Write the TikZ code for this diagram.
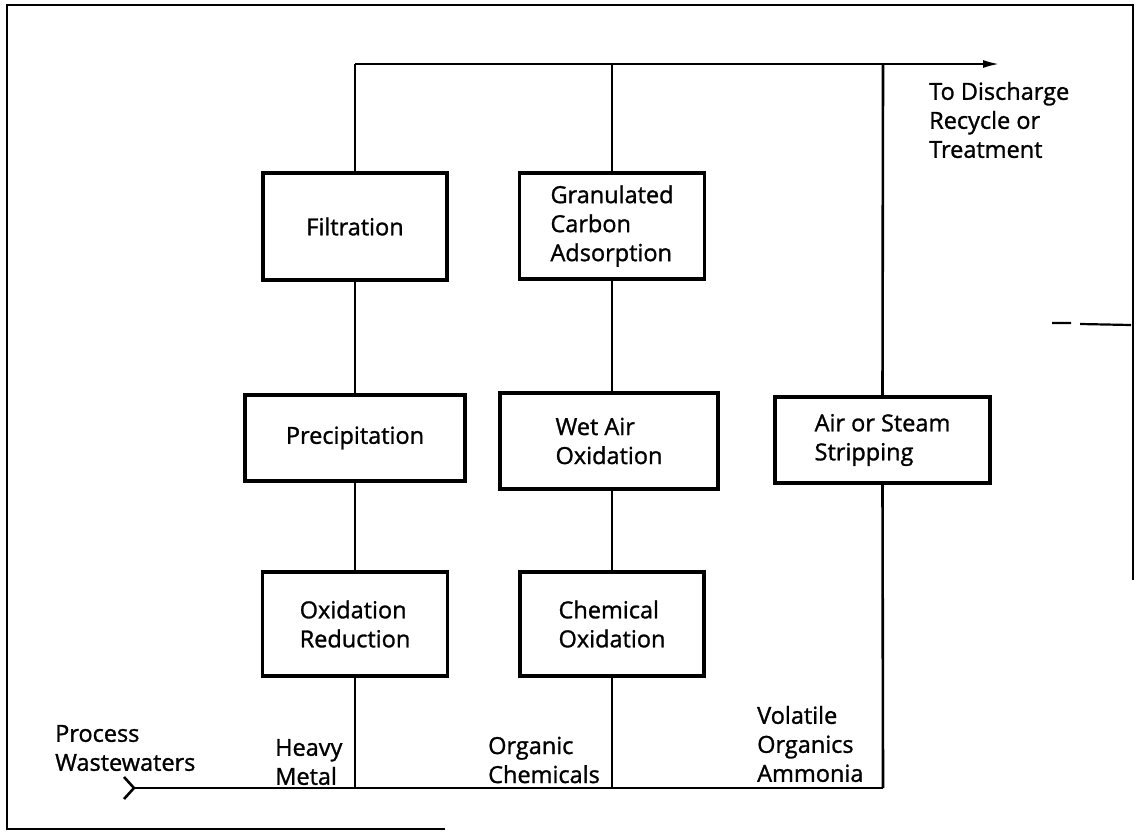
\documentclass[tikz,border=0pt]{standalone}
\usepackage{fontspec}
\setmainfont{Open Sans}[FakeBold=1.2]
\usetikzlibrary{arrows.meta}
\begin{document}
\begin{tikzpicture}[x=1pt,y=-1pt,
  box/.style={draw, line width=3.2pt, align=left, inner sep=0pt},
  flow/.style={line width=2.6pt},
  lbl/.style={anchor=west, align=left, inner sep=0pt},
  every node/.style={font=\fontsize{23.5}{29}\selectfont}]
\useasboundingbox (0,0) rectangle (1137,833);
% frame
\draw[line width=2.2pt] (445,829) -- (7,829) -- (7,5) -- (1133,5) -- (1133,580);
\draw[line width=2.2pt] (1052,323) -- (1071,323) (1080,324) -- (1131,325);
% boxes
\node[box, minimum width=184pt, minimum height=107pt] (filt) at (355,226.5) {Filtration};
\node[box, minimum width=185pt, minimum height=106pt] (gca) at (612,226) {Granulated\\Carbon\\Adsorption};
\node[box, minimum width=220pt, minimum height=86pt] (prec) at (355,438) {Precipitation};
\node[box, minimum width=218pt, minimum height=96pt] (wao) at (609,441) {Wet Air\\Oxidation};
\node[box, minimum width=215pt, minimum height=86pt] (aoss) at (882.5,440) {Air or Steam\\Stripping};
\node[box, minimum width=185pt, minimum height=104pt] (oxred) at (355,624) {Oxidation\\Reduction};
\node[box, minimum width=184pt, minimum height=104pt] (chem) at (612,624) {Chemical\\Oxidation};
% junctions
\coordinate (tl) at (355,64);
\coordinate (tm) at (612,64);
\coordinate (tr) at (883,64);
\coordinate (tend) at (1000,64);
\coordinate (bl) at (355,788);
\coordinate (bm) at (612,788);
\coordinate (br) at (883,788);
\coordinate (bstart) at (134,788);
\coordinate (tailtop) at (124,777);
\coordinate (tailbot) at (124,799);
% connectors
\draw[flow, -{Latex[length=17pt,width=8pt]}] (tl) -- (tend);
\draw[flow] (tl) -- (filt.north);
\draw[flow] (filt.south) -- (prec.north);
\draw[flow] (prec.south) -- (oxred.north);
\draw[flow] (oxred.south) -- (bl);
\draw[flow] (tm) -- (gca.north);
\draw[flow] (gca.south) -- (gca.south |- wao.north);
\draw[flow] (wao.south -| chem.north) -- (chem.north);
\draw[flow] (chem.south) -- (bm);
\draw[flow] (tr) -- (aoss.north);
\draw[flow] (aoss.south) -- (br);
\draw[flow] (bstart) -- (br);
\draw[flow, line join=round] (tailtop) -- (bstart) -- (tailbot);
% labels
\node[lbl] (dis) at (929,120) {To Discharge\\Recycle or\\Treatment};
\node[lbl] (pw) at (55,748) {Process\\Wastewaters};
\node[lbl] (hm) at (275,762) {Heavy\\Metal};
\node[lbl] (oc) at (488,760) {Organic\\Chemicals};
\node[lbl] (voa) at (757,744) {Volatile\\Organics\\Ammonia};
\end{tikzpicture}
\end{document}
